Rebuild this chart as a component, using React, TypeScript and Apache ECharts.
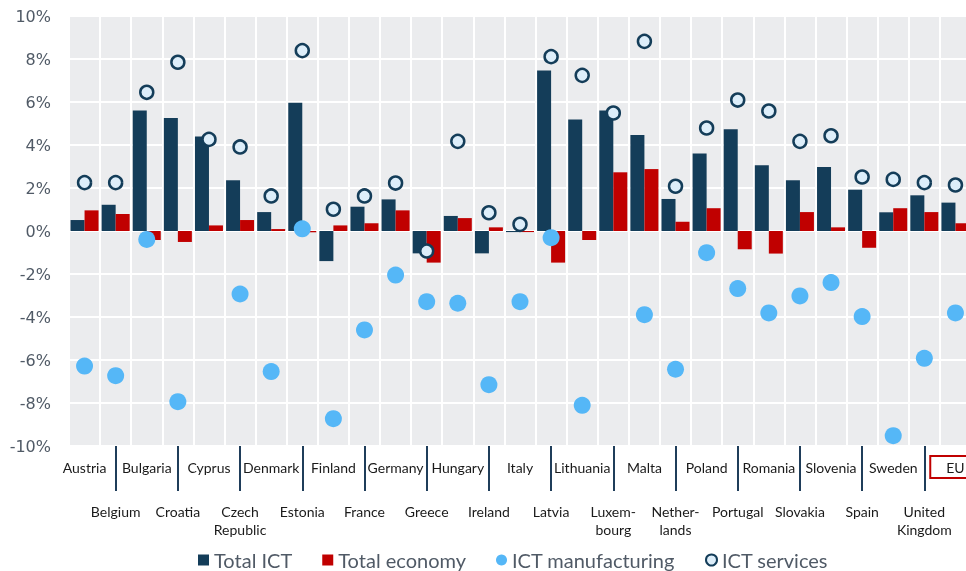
import React, { useEffect, useRef } from "react";
import * as echarts from "echarts";

const categories = [
  "Austria", "Belgium", "Bulgaria", "Croatia", "Cyprus", "Czech\nRepublic", "Denmark",
  "Estonia", "Finland", "France", "Germany", "Greece", "Hungary", "Ireland", "Italy",
  "Latvia", "Lithuania", "Luxem-\nbourg", "Malta", "Nether-\nlands", "Poland", "Portugal",
  "Romania", "Slovakia", "Slovenia", "Spain", "Sweden", "United\nKingdom", "EU",
];

const totalICT = [
  0.51, 1.22, 5.61, 5.26, 4.39, 2.36, 0.88, 5.97, -1.4, 1.13, 1.47, -1.04, 0.7, -1.04, -0.05,
  7.46, 5.19, 5.61, 4.47, 1.49, 3.6, 4.73, 3.06, 2.36, 2.98, 1.92, 0.87, 1.66, 1.32,
];
const totalEconomy = [
  0.96, 0.79, -0.42, -0.51, 0.26, 0.51, 0.09, -0.06, 0.26, 0.36, 0.96, -1.47, 0.6, 0.17, -0.05,
  -1.47, -0.42, 2.73, 2.88, 0.43, 1.06, -0.85, -1.05, 0.88, 0.17, -0.78, 1.06, 0.88, 0.36,
];
const ictManufacturing = [
  -6.28, -6.73, -0.39, -7.94, null, -2.93, -6.54, 0.1, -8.73, -4.6, -2.05, -3.29, -3.36, -7.15, -3.29,
  -0.31, -8.11, null, -3.89, -6.43, -1.01, -2.68, -3.81, -3.02, -2.4, -3.98, -9.52, -5.92, -3.81,
];
const ictServices = [
  2.25, 2.25, 6.45, 7.85, 4.26, 3.91, 1.63, 8.39, 1.01, 1.63, 2.23, -0.93, 4.17, 0.85, 0.31,
  8.11, 7.24, 5.49, 8.82, 2.08, 4.79, 6.09, 5.58, 4.17, 4.43, 2.51, 2.4, 2.25, 2.14,
];

const NAVY = "#143d59";
const RED = "#c00000";
const LIGHT = "#55b7f7";
const PALE = "#ddeefa";
const TEXT = "#505a66";
const LABEL_FONT = "Lato, 'Noto Sans', sans-serif";

export default function App() {
  const ref = useRef<HTMLDivElement>(null);
  useEffect(() => {
    if (!ref.current) return;
    const chart = echarts.init(ref.current, null, { renderer: "svg" });
    const labelBase = { fontFamily: LABEL_FONT, fontSize: 14, color: "#1a1a1a" };
    chart.setOption({
      animation: false,
      grid: {
        left: 69,
        top: 16,
        width: 902,
        height: 430,
        show: true,
        backgroundColor: "#ebecee",
        borderWidth: 0,
        containLabel: false,
        outerBoundsMode: "none",
      },
      legend: {
        left: 193,
        top: 545,
        itemWidth: 11,
        itemHeight: 11,
        itemGap: 30,
        textStyle: { fontFamily: LABEL_FONT, fontSize: 20, color: TEXT },
        data: [
          { name: "Total ICT", icon: "rect" },
          { name: "Total economy", icon: "rect" },
          { name: "ICT manufacturing", icon: "circle" },
          { name: "ICT services", icon: "circle" },
        ],
      },
      xAxis: [
        {
          type: "category",
          data: categories,
          boundaryGap: true,
          axisLine: { show: false },
          axisTick: { show: false },
          splitLine: { show: true, interval: 0, lineStyle: { color: "#ffffff", width: 2 } },
          axisLabel: {
            interval: (i: number) => i % 2 === 0,
            margin: 10,
            ...labelBase,
            formatter: (v: string) => (v === "EU" ? `{eu|${v}}` : `{n|${v}}`),
            rich: {
              n: { ...labelBase, padding: [4, 0, 4, 0] },
              eu: {
                ...labelBase,
                padding: [4, 16, 4, 16],
                borderColor: RED,
                borderWidth: 2,
              },
            },
          },
        },
        {
          type: "category",
          data: categories,
          boundaryGap: true,
          position: "bottom",
          axisLine: { show: false },
          splitLine: { show: false },
          axisTick: {
            show: true,
            alignWithLabel: true,
            interval: (i: number) => i % 2 === 1,
            length: 45,
            lineStyle: { color: "#1f3d5a", width: 2 },
          },
          axisLabel: {
            interval: (i: number) => i % 2 === 1,
            margin: 56,
            lineHeight: 18,
            ...labelBase,
          },
        },
      ],
      yAxis: {
        type: "value",
        min: -10,
        max: 10,
        interval: 2,
        axisLine: { show: false },
        axisTick: { show: false },
        splitLine: { show: true, lineStyle: { color: "#ffffff", width: 2 } },
        axisLabel: {
          margin: 18,
          formatter: (v: number) => `${v}%`,
          fontFamily: "'DejaVu Sans', sans-serif",
          fontSize: 16,
          color: TEXT,
        },
      },
      series: [
        {
          name: "Total ICT",
          type: "bar",
          data: totalICT,
          barWidth: 14,
          barGap: "0%",
          itemStyle: { color: NAVY },
        },
        {
          name: "Total economy",
          type: "bar",
          data: totalEconomy,
          barWidth: 14,
          barGap: "0%",
          itemStyle: { color: RED },
        },
        {
          name: "ICT manufacturing",
          type: "scatter",
          data: ictManufacturing,
          symbol: "circle",
          symbolSize: 17,
          itemStyle: { color: LIGHT, opacity: 1 },
          z: 3,
        },
        {
          name: "ICT services",
          type: "scatter",
          data: ictServices,
          symbol: "circle",
          symbolSize: 13,
          itemStyle: { color: PALE, borderColor: NAVY, borderWidth: 2.5, opacity: 1 },
          z: 4,
        },
      ],
    });
    return () => chart.dispose();
  }, []);
  return (
    <div
      ref={ref}
      style={{ position: "fixed", left: 0, top: 0, width: 966, height: 571 }}
    />
  );
}
